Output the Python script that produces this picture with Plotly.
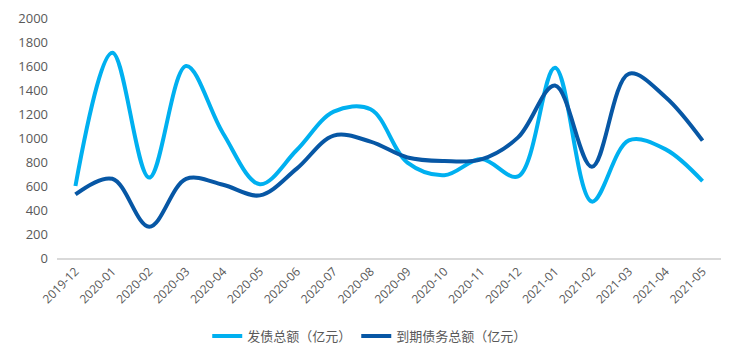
import plotly.graph_objects as go

months = ["2019-12", "2020-01", "2020-02", "2020-03", "2020-04", "2020-05",
          "2020-06", "2020-07", "2020-08", "2020-09", "2020-10", "2020-11",
          "2020-12", "2021-01", "2021-02", "2021-03", "2021-04", "2021-05"]
issuance = [600, 1710, 670, 1600, 1040, 615, 900, 1220, 1240, 795, 690, 825,
            680, 1585, 470, 980, 905, 640]
maturity = [530, 660, 260, 660, 610, 522, 745, 1020, 970, 838, 808, 822,
            1005, 1438, 760, 1535, 1340, 978]

name_issue = "发债总额（亿元）"
name_mature = "到期债务总额（亿元）"

font_family = "Open Sans, Noto Sans CJK SC, sans-serif"

fig = go.Figure()
fig.add_trace(go.Scatter(x=months, y=issuance, name=name_issue, mode="lines",
                         line=dict(color="#00B0F0", width=4, shape="spline", smoothing=1.0)))
fig.add_trace(go.Scatter(x=months, y=maturity, name=name_mature, mode="lines",
                         line=dict(color="#0757A5", width=4, shape="spline", smoothing=1.0)))

fig.update_layout(
    width=740, height=362,
    margin=dict(l=49, r=27, t=10, b=112),
    paper_bgcolor="white", plot_bgcolor="white",
    font=dict(family=font_family, color="#595959", size=13),
    showlegend=True,
    legend=dict(orientation="h", x=0.471, xanchor="center",
                y=-0.325, yanchor="middle",
                font=dict(size=13, color="#595959"), itemwidth=30,
                tracegroupgap=0),
    xaxis=dict(type="category", range=[-0.5, 17.5], tickangle=-45, automargin=False,
               showgrid=False, showline=True, linecolor="#D9D9D9", linewidth=1.5,
               ticks="", tickfont=dict(size=12, color="#595959"), zeroline=False),
    yaxis=dict(range=[0, 2000], dtick=200, showgrid=False, zeroline=False, automargin=False,
               showline=False, ticks="", tickfont=dict(size=13, color="#595959"),
               ticklabelstandoff=8),
)

fig.write_html("out.html")
